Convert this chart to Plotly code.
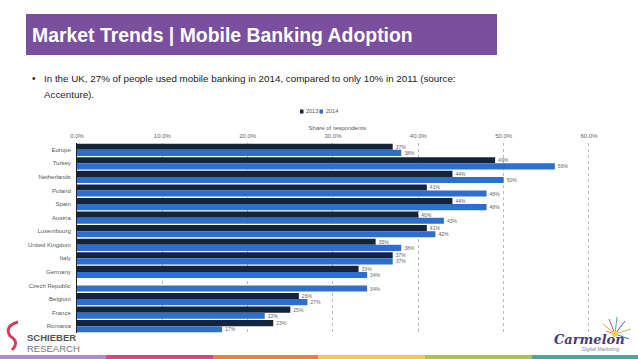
import plotly.graph_objects as go

categories = ["Europe", "Turkey", "Netherlands", "Poland", "Spain", "Austria",
              "Luxembourg", "United Kingdom", "Italy", "Germany", "Czech Republic",
              "Belgium", "France", "Romania"]
values_2013 = [37, 49, 44, 41, 44, 40, 41, 35, 37, 33, None, 26, 25, 23]
values_2014 = [38, 56, 50, 48, 48, 43, 42, 38, 37, 34, 34, 27, 22, 17]
series_names = ["2013", "2014"]
series_colors = ["#13243b", "#2c6fcc"]
tick_vals = [0, 10, 20, 30, 40, 50, 60]
tick_text = ["0.0%", "10.0%", "20.0%", "30.0%", "40.0%", "50.0%", "60.0%"]

W, H = 638, 359
def px(x): return x / W
def py(y): return 1 - y / H

FONT = "Liberation Sans, Arial, sans-serif"

def lbl(vals):
    return [("" if v is None else f"{v}%") for v in vals]

fig = go.Figure()
for name, vals, col in zip(series_names, [values_2013, values_2014], series_colors):
    fig.add_trace(go.Bar(
        y=categories, x=vals, name=name, orientation="h",
        marker=dict(color=col, line=dict(width=0)),
        text=lbl(vals), textposition="outside", cliponaxis=False,
        textfont=dict(size=5, color="#666666", family=FONT),
    ))

shapes = [
    dict(type="rect", xref="paper", yref="paper", x0=px(26), x1=px(497), y0=py(55), y1=py(14),
         fillcolor="#7a509e", line=dict(width=0), layer="below"),
]
stripe = [(0, 106, "#b18ccb"), (106, 213, "#d8467c"), (213, 318, "#ef7d4b"),
          (318, 425, "#f3c84f"), (425, 532, "#a6c454"), (532, 638, "#4ea49b")]
for x0, x1, c in stripe:
    shapes.append(dict(type="rect", xref="paper", yref="paper", x0=px(x0), x1=px(x1),
                       y0=0, y1=py(355), fillcolor=c, line=dict(width=0)))
# manual compact legend
annotations = []
for (sx, name), col in zip([(300, "2013"), (319.5, "2014")], series_colors):
    shapes.append(dict(type="rect", xref="paper", yref="paper", x0=px(sx), x1=px(sx + 3.5),
                       y0=py(113.5), y1=py(109.5), fillcolor=col, line=dict(width=0)))
    annotations.append(dict(text=name, x=px(sx + 4), y=py(111.5), xref="paper", yref="paper",
                            xanchor="left", yanchor="middle", showarrow=False,
                            font=dict(family=FONT, size=5.5, color="#555555")))
# starburst near Carmelon logo
burst_c = ["#e9a33b", "#d8467c", "#4ea49b", "#7a509e", "#a6c454", "#2c6fcc", "#ef7d4b"]
cx, cy = 615, 334
ends = [(603, 324), (609, 319), (617, 317), (625, 321), (631, 329), (629, 339), (606, 331)]
for (ex, ey), c in zip(ends, burst_c):
    shapes.append(dict(type="line", xref="paper", yref="paper", x0=px(cx), y0=py(cy),
                       x1=px(ex), y1=py(ey), line=dict(color=c, width=1)))
shapes.append(dict(type="circle", xref="paper", yref="paper", x0=px(cx - 3), x1=px(cx + 3),
                   y0=py(cy + 3), y1=py(cy - 3), fillcolor="#f2d34a", line=dict(width=0)))
# Schieber logo mark
shapes.append(dict(type="path", xref="paper", yref="paper",
                   path=f"M {px(18)} {py(322)} Q {px(4)} {py(326)} {px(10)} {py(336)} "
                        f"Q {px(20)} {py(342)} {px(12)} {py(350)}",
                   line=dict(color="#d0405a", width=3)))

annotations += [
    dict(text="<b>Market Trends | Mobile Banking Adoption</b>", x=px(30), y=py(35),
         xref="paper", yref="paper", xanchor="left", yanchor="middle", showarrow=False,
         font=dict(family=FONT, size=19.4, color="white")),
    dict(text="•", x=px(30), y=py(78), xref="paper", yref="paper", xanchor="left",
         yanchor="middle", showarrow=False, font=dict(family=FONT, size=10, color="#222222")),
    dict(text="In the UK, 27% of people used mobile banking in 2014, compared to only 10% in 2011 (source:",
         x=px(42), y=py(78), xref="paper", yref="paper", xanchor="left", yanchor="middle",
         showarrow=False, font=dict(family=FONT, size=9.8, color="#222222")),
    dict(text="Accenture).", x=px(42), y=py(94), xref="paper", yref="paper", xanchor="left",
         yanchor="middle", showarrow=False, font=dict(family=FONT, size=9.8, color="#222222")),
    dict(text="<b>SCHIEBER</b>", x=px(25), y=py(337), xref="paper", yref="paper", xanchor="left",
         yanchor="middle", showarrow=False, font=dict(family=FONT, size=9.5, color="#555555")),
    dict(text="RESEARCH", x=px(25), y=py(348.5), xref="paper", yref="paper", xanchor="left",
         yanchor="middle", showarrow=False, font=dict(family=FONT, size=9.5, color="#777777")),
    dict(text="<b><i>Carmelon</i></b>", x=px(552), y=py(339), xref="paper", yref="paper",
         xanchor="left", yanchor="middle", showarrow=False,
         font=dict(family="DejaVu Serif, serif", size=13, color="#4b3a7c")),
    dict(text="<i>Digital Marketing</i>", x=px(580), y=py(349), xref="paper", yref="paper",
         xanchor="left", yanchor="middle", showarrow=False,
         font=dict(family=FONT, size=5, color="#8a7aa8")),
]

fig.update_layout(
    width=W, height=H, margin=dict(l=0, r=0, t=0, b=0, autoexpand=False),
    paper_bgcolor="white", plot_bgcolor="white",
    barmode="group", bargap=0.1, bargroupgap=0.0,
    font=dict(family=FONT, color="#555555"),
    showlegend=False,
    xaxis=dict(domain=[px(77), px(597.5)], range=[0, 61], side="top", automargin=False,
               tickvals=tick_vals, ticktext=tick_text, ticks="",
               tickfont=dict(size=6, color="#666666"), ticklabelstandoff=3,
               showgrid=True, gridcolor="#bbbbbb", griddash="dot", gridwidth=1,
               zeroline=False, showline=False,
               title=dict(text="Share of respondents", font=dict(size=6, color="#555555"),
                          standoff=1)),
    yaxis=dict(domain=[py(333), py(143)], autorange="reversed", automargin=False,
               tickfont=dict(size=6, color="#555555"), ticks="", ticklen=0,
               showline=True, linecolor="#222222", linewidth=1, showgrid=False,
               ticklabelstandoff=4),
    shapes=shapes, annotations=annotations,
)

fig.write_html("out.html", config={"displayModeBar": False},
               post_script="document.body.style.margin='0';document.body.style.padding='0';")
